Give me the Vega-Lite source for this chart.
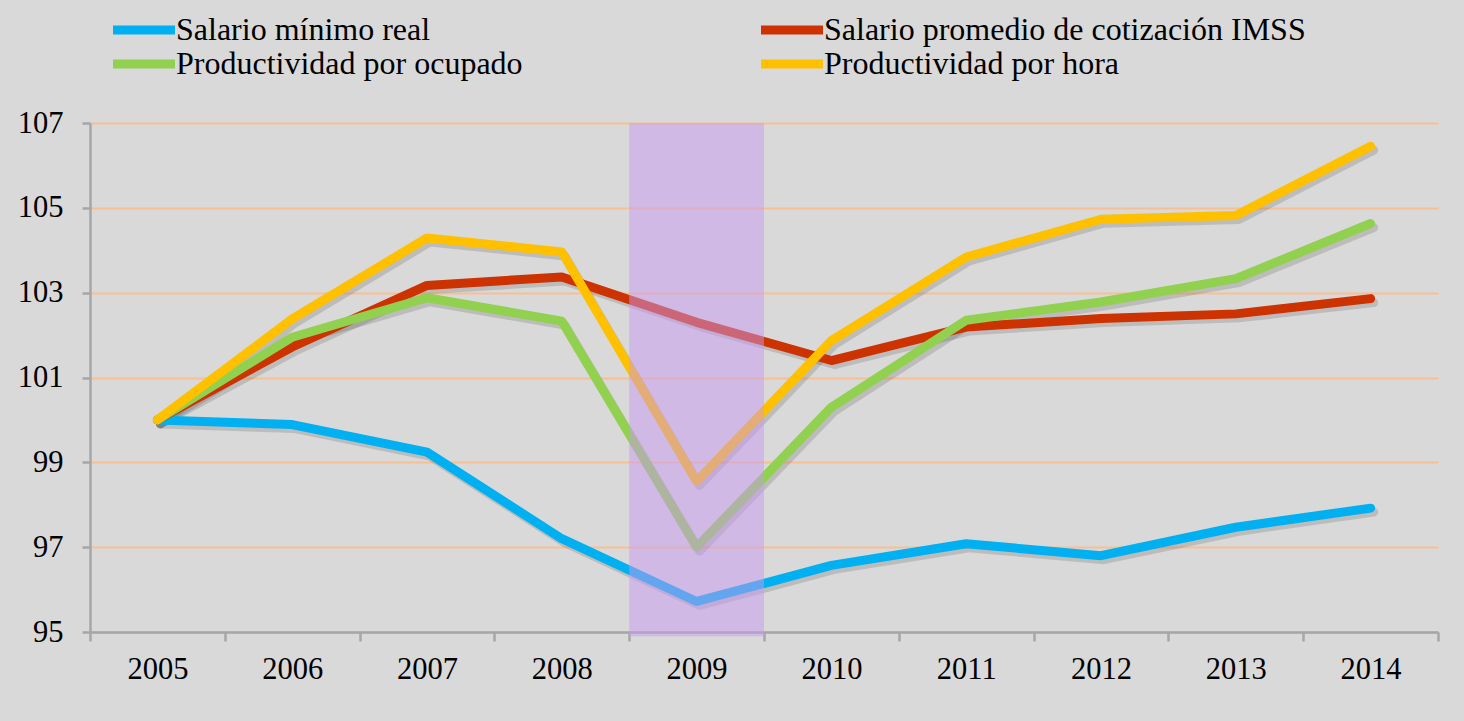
{
  "$schema": "https://vega.github.io/schema/vega-lite/v6.json",
  "width": 1348,
  "height": 509,
  "autosize": {"type": "none"},
  "padding": {"left": 90, "top": 123, "right": 26, "bottom": 89},
  "background": "#d9d9d9",
  "datasets": {
    "series": [
      {"year": "2005", "serie": "Salario mínimo real", "value": 100.0},
      {"year": "2006", "serie": "Salario mínimo real", "value": 99.89},
      {"year": "2007", "serie": "Salario mínimo real", "value": 99.24},
      {"year": "2008", "serie": "Salario mínimo real", "value": 97.2},
      {"year": "2009", "serie": "Salario mínimo real", "value": 95.72},
      {"year": "2010", "serie": "Salario mínimo real", "value": 96.57},
      {"year": "2011", "serie": "Salario mínimo real", "value": 97.08},
      {"year": "2012", "serie": "Salario mínimo real", "value": 96.8},
      {"year": "2013", "serie": "Salario mínimo real", "value": 97.47},
      {"year": "2014", "serie": "Salario mínimo real", "value": 97.92},
      {"year": "2005", "serie": "Salario promedio de cotización IMSS", "value": 100.0},
      {"year": "2006", "serie": "Salario promedio de cotización IMSS", "value": 101.72},
      {"year": "2007", "serie": "Salario promedio de cotización IMSS", "value": 103.17},
      {"year": "2008", "serie": "Salario promedio de cotización IMSS", "value": 103.37},
      {"year": "2009", "serie": "Salario promedio de cotización IMSS", "value": 102.3},
      {"year": "2010", "serie": "Salario promedio de cotización IMSS", "value": 101.4},
      {"year": "2011", "serie": "Salario promedio de cotización IMSS", "value": 102.19},
      {"year": "2012", "serie": "Salario promedio de cotización IMSS", "value": 102.39},
      {"year": "2013", "serie": "Salario promedio de cotización IMSS", "value": 102.5},
      {"year": "2014", "serie": "Salario promedio de cotización IMSS", "value": 102.86},
      {"year": "2005", "serie": "Productividad por ocupado", "value": 100.0},
      {"year": "2006", "serie": "Productividad por ocupado", "value": 101.95},
      {"year": "2007", "serie": "Productividad por ocupado", "value": 102.88},
      {"year": "2008", "serie": "Productividad por ocupado", "value": 102.33},
      {"year": "2009", "serie": "Productividad por ocupado", "value": 97.0},
      {"year": "2010", "serie": "Productividad por ocupado", "value": 100.3},
      {"year": "2011", "serie": "Productividad por ocupado", "value": 102.35},
      {"year": "2012", "serie": "Productividad por ocupado", "value": 102.78},
      {"year": "2013", "serie": "Productividad por ocupado", "value": 103.33},
      {"year": "2014", "serie": "Productividad por ocupado", "value": 104.63},
      {"year": "2005", "serie": "Productividad por hora", "value": 100.0},
      {"year": "2006", "serie": "Productividad por hora", "value": 102.38},
      {"year": "2007", "serie": "Productividad por hora", "value": 104.29},
      {"year": "2008", "serie": "Productividad por hora", "value": 103.96},
      {"year": "2009", "serie": "Productividad por hora", "value": 98.55},
      {"year": "2010", "serie": "Productividad por hora", "value": 101.87},
      {"year": "2011", "serie": "Productividad por hora", "value": 103.84},
      {"year": "2012", "serie": "Productividad por hora", "value": 104.73},
      {"year": "2013", "serie": "Productividad por hora", "value": 104.82},
      {"year": "2014", "serie": "Productividad por hora", "value": 106.45}
    ],
    "shade": [
      {"year": "2009", "top": 107, "bottom": 94.9}
    ]
  },
  "layer": [
    {
      "data": {"name": "series"},
      "mark": {"type": "line", "strokeWidth": 9, "strokeCap": "round", "strokeJoin": "round", "color": "#303030", "opacity": 0.17, "xOffset": 3, "yOffset": 4},
      "encoding": {
        "x": {"field": "year", "type": "ordinal", "scale": {"type": "band", "paddingInner": 0, "paddingOuter": 0}},
        "y": {"field": "value", "type": "quantitative"},
        "detail": {"field": "serie"}
      }
    },
    {
      "data": {"name": "series"},
      "mark": {"type": "line", "strokeWidth": 9, "strokeCap": "round", "strokeJoin": "round"},
      "encoding": {
        "x": {
          "field": "year", "type": "ordinal", "title": null,
          "scale": {"type": "band", "paddingInner": 0, "paddingOuter": 0},
          "axis": {
            "tickBand": "extent", "labelAngle": 0, "labelAlign": "center", "tickSize": 9, "labelPadding": 28,
            "domainColor": "#a6a6a6", "domainWidth": 2.5, "tickColor": "#a6a6a6", "tickWidth": 2.5,
            "labelFont": "Liberation Serif, Times New Roman, serif", "labelFontSize": 30.5, "labelColor": "#000000", "grid": false
          }
        },
        "y": {
          "field": "value", "type": "quantitative", "title": null,
          "scale": {"domain": [95, 107], "nice": false, "zero": false},
          "axis": {
            "values": [95, 97, 99, 101, 103, 105, 107], "tickSize": 8, "labelPadding": 19,
            "domainColor": "#a6a6a6", "domainWidth": 2.5, "tickColor": "#a6a6a6", "tickWidth": 2.5,
            "labelFont": "Liberation Serif, Times New Roman, serif", "labelFontSize": 30.5, "labelColor": "#000000",
            "grid": true, "gridColor": "#f8c092", "gridWidth": 2, "gridOpacity": 1
          }
        },
        "color": {
          "field": "serie", "type": "nominal",
          "scale": {
            "domain": ["Salario mínimo real", "Salario promedio de cotización IMSS", "Productividad por ocupado", "Productividad por hora"],
            "range": ["#00b0f0", "#cc3300", "#92d050", "#ffc000"]
          },
          "legend": {
            "title": null, "orient": "none", "legendX": 38, "legendY": -109, "columns": 2,
            "direction": "horizontal", "padding": 0,
            "columnPadding": 220, "rowPadding": -7, "symbolType": "M-4,0L4,0", "symbolSize": 240,
            "symbolStrokeWidth": 9, "labelOffset": 16, "labelFont": "Liberation Serif, Times New Roman, serif",
            "labelFontSize": 32, "labelColor": "#000000", "labelLimit": 0
          }
        },
        "order": {"field": "year"}
      }
    },
    {
      "data": {"name": "shade"},
      "mark": {"type": "rect", "color": "#c89af0", "opacity": 0.5},
      "encoding": {
        "x": {"field": "year", "type": "ordinal"},
        "width": {"band": 0.95},
        "y": {"field": "top", "type": "quantitative"},
        "y2": {"field": "bottom"}
      }
    }
  ],
  "config": {
    "view": {"stroke": null},
    "font": "Liberation Serif, Times New Roman, serif"
  }
}
